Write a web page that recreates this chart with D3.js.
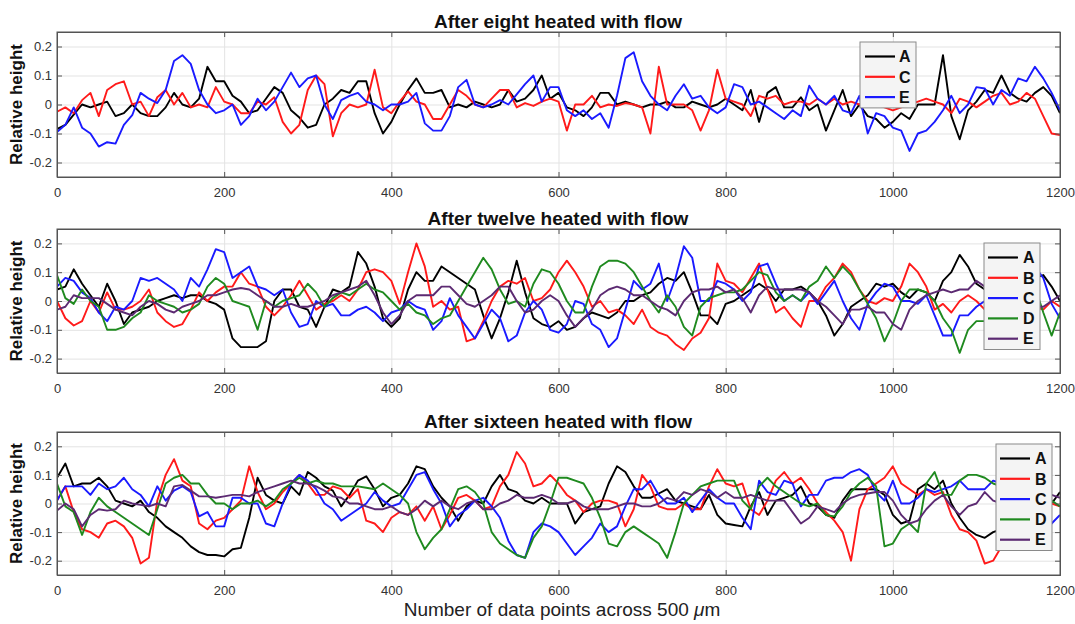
<!DOCTYPE html>
<html>
<head>
<meta charset="utf-8">
<script src="https://cdn.jsdelivr.net/npm/d3@7"></script>
<style>
  body { margin: 0; background: #fff; }
  svg { display: block; font-family: Arial, "Liberation Sans", sans-serif; }
</style>
</head>
<body>
<div id="chart"></div>
<script>
// sample positions (every 10 data points)
const xPos = d3.range(0, 1201, 10);
const xTicks = [0, 200, 400, 600, 800, 1000, 1200];
const yTicks = [-0.2, -0.1, 0, 0.1, 0.2];

// After eight heated with flow
const eightA = [-0.085,-0.07,-0.035,0,-0.01,0,0.01,-0.04,-0.03,0,
  -0.03,-0.04,-0.04,-0.01,0.04,0,-0.01,0.02,0.13,0.08,
  0.08,0.03,0.01,-0.03,-0.02,0.02,0.06,0.04,-0.02,-0.045,
  -0.08,-0.07,0,0.02,0.05,0.04,0.08,0.08,-0.03,-0.1,
  -0.06,0,0.05,0.09,0.04,0.04,0.05,-0.01,0,-0.01,
  0.01,0,-0.01,0,0.05,0.01,0.02,0.05,0.1,0.02,
  0.04,-0.01,-0.02,-0.04,-0.01,0.04,0.04,0,0.01,0,
  -0.01,0,0,0.01,-0.01,-0.01,0.01,0,-0.01,0,
  0.02,0,-0.02,0.05,-0.06,0.04,0.06,-0.01,-0.01,0.025,
  -0.02,0,-0.09,-0.02,0.05,-0.04,0,-0.04,-0.05,-0.08,
  -0.06,-0.03,-0.05,0,0,0,0.17,-0.04,-0.12,-0.02,
  0.01,0.05,0.04,0.1,0.04,0.02,0.01,0.04,0.06,0.03,
  -0.03];
const eightC = [-0.025,-0.01,-0.03,0.015,0.04,-0.04,0.05,0.07,0.08,0,
  0.01,-0.04,0.025,0.05,0,0.04,-0.01,0,-0.01,0.06,
  0.01,0,-0.03,-0.03,0.01,0,0.025,-0.06,-0.1,-0.07,
  0.05,0.1,0.07,-0.11,-0.03,0,-0.01,0,0.12,-0.01,
  -0.03,0.01,0.045,0.01,0,-0.05,-0.05,0,0.05,0.03,
  0,-0.01,0.02,0.05,0.05,-0.01,0.005,-0.005,0.01,0.02,
  0.01,-0.09,0,0,0.03,-0.01,0,-0.005,0.005,0,
  -0.01,-0.1,0.13,0,0,0,-0.02,-0.09,-0.02,0.12,
  0.02,0.01,0,-0.04,0.03,0.02,0.03,0,0.01,0.01,
  0,0.02,0,0.02,0,0.01,0,0.01,0,-0.01,
  -0.02,-0.01,0,0.01,0.02,0.01,0,-0.03,0.02,0.01,
  -0.01,0.01,0.03,0.04,0,0.01,0.04,0.02,-0.04,-0.1,
  -0.105];
const eightE = [-0.095,-0.07,-0.01,-0.08,-0.1,-0.145,-0.13,-0.135,-0.07,-0.037,
  0.04,0.02,0.005,0.05,0.15,0.17,0.14,0.05,0,-0.03,
  -0.02,0,-0.07,-0.04,0.02,-0.02,0.01,0.06,0.11,0.06,
  0.09,0.1,0,-0.05,0.015,0.03,0.04,0.01,0,-0.02,
  0,0,0.01,0.04,-0.065,-0.09,-0.09,-0.04,0.06,0.085,
  0,-0.01,0,0.015,0,0.035,0.07,0.1,0.01,0.06,
  0.06,-0.02,-0.04,-0.02,-0.05,-0.03,-0.08,0.03,0.16,0.18,
  0.08,0.03,0,-0.02,0.03,0.07,0.02,0.03,-0.01,-0.03,
  -0.01,0.07,0.06,0,0.01,-0.01,-0.03,-0.05,-0.02,-0.04,
  0.065,0.02,0,0.03,-0.02,-0.03,0.03,-0.1,-0.03,-0.04,
  -0.08,-0.09,-0.16,-0.1,-0.09,-0.06,-0.02,0.03,-0.03,0,
  0.06,0.055,0,0.05,0.03,0.09,0.08,0.13,0.09,0.04,
  -0.02];

// After twelve heated with flow
const twelveA = [0.04,0.05,0.11,0.06,0.02,-0.02,0.06,0,-0.08,-0.04,
  -0.03,-0.02,0,0.01,0.02,0.01,0.02,0.02,0,-0.01,
  -0.03,-0.13,-0.16,-0.16,-0.16,-0.14,0,0.04,0.04,-0.02,
  -0.03,-0.09,-0.02,0.04,0.03,0.05,0.17,0.13,0.05,-0.06,
  -0.09,-0.06,0.04,0.1,0.07,0.07,0.12,0.1,0.08,0.06,
  0.04,-0.05,-0.13,-0.06,0.03,0.14,0.03,-0.06,-0.08,-0.09,
  -0.07,-0.1,-0.09,-0.06,-0.04,-0.05,-0.06,-0.04,0,0,
  0.02,0.03,0.06,0.08,0.07,0.1,0.03,-0.05,-0.05,-0.08,
  -0.01,0,0.02,0.04,0.06,0.04,0,0.04,0.04,0.05,
  0.03,0,-0.05,-0.12,-0.08,-0.02,0,0.02,0.06,0.05,
  0.06,0.03,0.01,0.04,0.03,0,0.07,0.1,0.16,0.12,
  0.06,0.04,0.02,0,0.02,0.04,0.06,0.08,0.09,0.05,
  0];
const twelveB = [0,-0.06,-0.085,-0.07,0,-0.04,0.03,-0.03,-0.03,-0.02,
  0,0.04,-0.04,-0.07,-0.09,-0.08,-0.03,0.03,0,0.03,
  0.05,0.05,0.1,0.06,0.05,-0.02,-0.05,-0.02,0.02,0.07,
  0.02,-0.03,-0.01,0,0.02,0,0.04,0.1,0.11,0.1,
  0.07,-0.01,0.1,0.2,0.12,-0.02,0,-0.03,-0.02,-0.14,
  -0.13,-0.07,0,0.05,0.07,0.06,0.08,0,0.01,0.04,
  0.1,0.14,0.1,0.05,-0.02,0,-0.04,-0.03,-0.05,-0.08,
  -0.03,-0.09,-0.11,-0.12,-0.15,-0.17,-0.13,-0.11,-0.06,0.13,
  0.07,0.06,0.03,0.08,0.13,0.04,-0.04,-0.02,-0.06,-0.09,
  0,0,0.05,0.08,0.13,0.1,0.04,0,-0.01,0.01,
  0,0.05,0.13,0.1,0.05,-0.03,-0.01,-0.04,0,0.02,
  0,-0.03,-0.02,0,-0.02,-0.03,-0.01,-0.02,-0.03,0,
  -0.02];
const twelveC = [0.05,0.08,0.07,0.03,0.01,-0.04,-0.07,-0.02,-0.03,0,
  0.08,0.07,0.08,0.06,0.04,0,0.08,0.05,0.11,0.18,
  0.17,0.08,0.1,0.12,0.05,0.04,0.02,0.04,-0.04,-0.09,
  -0.08,0,-0.02,-0.01,-0.05,-0.05,-0.03,-0.02,-0.04,-0.07,
  -0.04,-0.03,0,-0.02,-0.03,-0.1,-0.07,0.01,-0.05,-0.09,
  -0.13,-0.08,-0.03,-0.06,-0.14,-0.12,-0.04,0,-0.03,-0.1,
  -0.11,-0.08,0,-0.01,-0.08,-0.1,-0.16,-0.13,-0.03,0.07,
  0.04,0.06,0.13,0,0.08,0.19,0.15,0,0,0.07,
  0.06,0.04,0,0.03,0.12,0.13,0.06,0,0.02,0,
  0.03,-0.01,0.03,0.07,0,-0.06,-0.1,-0.01,0.03,0.06,
  0.05,0,0,-0.01,0.02,-0.05,-0.12,-0.12,-0.05,-0.05,
  -0.02,0,0.03,0.05,0.06,0.08,0.1,0.12,0.08,-0.01,
  -0.06];
const twelveD = [0.09,0.01,-0.01,0.04,0,-0.02,-0.1,-0.1,-0.09,-0.06,
  -0.04,0.02,0,-0.01,-0.02,-0.04,-0.03,-0.01,0.05,0.08,
  0.06,0,-0.01,-0.02,-0.1,0,-0.02,0,0.01,0.02,
  0.06,0.03,-0.02,0.01,0.03,0.02,0.04,0.06,0.04,0.03,
  0,-0.03,-0.01,-0.04,-0.05,-0.08,-0.06,-0.05,0,0.05,
  0.1,0.15,0.11,0.04,-0.01,0,-0.02,0.06,0.11,0.1,
  0.06,0,-0.04,-0.04,0.05,0.12,0.14,0.14,0.13,0.1,
  0.05,0,-0.04,0.02,-0.02,-0.09,-0.12,-0.02,0.01,0.02,
  0.03,0.03,0.04,0.07,0.1,0.09,0.03,0,0.02,0,
  0.05,0.07,0.12,0.08,0.12,0.09,0.04,-0.01,-0.06,-0.14,
  -0.08,0,0.04,0.04,0.03,0,-0.06,-0.1,-0.18,-0.1,
  -0.07,-0.07,-0.05,-0.03,0,0.02,0.04,0.05,-0.04,-0.12,
  -0.04];
const twelveE = [-0.03,-0.02,0.02,0.01,0.01,0.01,-0.01,-0.03,-0.04,-0.05,
  -0.02,0,-0.01,-0.03,-0.04,-0.02,-0.01,0,0.02,0.02,
  0.03,0.04,0.045,0.04,0.02,0,-0.02,-0.02,-0.01,-0.02,
  -0.02,-0.01,0,0.02,0.03,0.04,0.05,0.07,0.02,-0.04,
  -0.08,-0.05,0,0.02,0.02,0.02,0.05,0.05,0.02,-0.01,
  -0.02,0,0.02,0.05,0.05,0,-0.04,-0.03,0,0.02,
  0,-0.05,-0.09,-0.06,-0.03,0.02,0.04,0.05,0.04,0.02,
  0.02,0,-0.02,-0.03,-0.05,0,0.03,0.04,0.04,0.05,
  0.03,0.04,0.01,-0.04,0.02,0.05,0.04,0.04,0.04,0.04,
  0.03,0,-0.02,-0.05,-0.08,-0.03,-0.03,-0.02,-0.04,-0.04,
  -0.08,-0.1,-0.03,0,0.02,0.03,0.04,0.03,0.04,0.04,
  0.07,0.05,0.03,0,-0.01,-0.02,-0.02,-0.02,-0.02,0,
  0.02];

// After sixteen heated with flow
const sixteenA = [0.09,0.14,0.06,0.07,0.07,0.09,0.06,0.01,0,-0.01,
  0.01,-0.03,-0.05,-0.08,-0.1,-0.12,-0.15,-0.17,-0.18,-0.18,
  -0.185,-0.16,-0.155,-0.05,0.09,0.03,0.01,0,0.06,0.03,
  0.11,0.09,0.06,0.045,-0.01,0.03,0.08,0.095,0.05,-0.01,
  0.02,0.03,0.07,0.13,0.12,0.06,0.02,-0.01,-0.06,-0.01,
  0.01,0,0.06,0.1,0.05,0.04,0.01,0,0.02,0,
  0,0,-0.07,-0.03,-0.02,-0.01,0.07,0.13,0.11,0.06,
  0.02,0.02,0.035,0.05,0.01,0,-0.01,-0.02,0.03,-0.04,
  -0.07,-0.075,-0.08,-0.01,0.04,-0.04,0.01,0.02,0.03,0.06,
  0,-0.01,-0.04,-0.05,0.01,0.05,0.05,0.05,0.05,0.03,
  -0.04,-0.07,-0.06,0.05,0.07,0.05,0.08,0,-0.05,-0.09,
  -0.11,-0.12,-0.1,-0.09,-0.06,-0.03,0,0.02,0,0,
  0.04];
const sixteenB = [0.01,0.06,-0.03,-0.09,-0.1,-0.12,-0.07,-0.06,-0.08,-0.12,
  -0.21,-0.19,0.01,0.1,0.155,0.08,0.06,-0.07,-0.09,-0.06,
  -0.05,-0.02,0.01,0.13,0.04,-0.02,0,0.04,0.07,0.1,
  0.07,0.03,0.03,0.06,0.05,0.02,0.05,-0.06,-0.07,-0.1,
  -0.05,-0.03,-0.04,-0.01,-0.06,-0.01,-0.09,-0.04,0.02,0.03,
  0.01,-0.02,-0.01,0.06,0.1,0.18,0.14,0.06,0.07,0.1,
  0.07,0.03,0.01,-0.03,0,0.01,0.01,0,-0.08,-0.02,
  0.1,0.06,-0.01,-0.02,-0.02,0,-0.02,-0.02,0.06,0.12,
  0.07,0.06,0.07,-0.02,-0.04,0.01,0.08,0.11,0.07,0.09,
  0.05,0,-0.03,-0.06,-0.1,-0.2,-0.02,0.05,0.07,0.09,
  0.13,0.07,0.05,0.03,0.05,0.03,0.04,-0.04,-0.09,-0.1,
  -0.13,-0.21,-0.2,-0.15,-0.1,-0.06,-0.04,-0.02,-0.02,0,
  -0.01];
const sixteenC = [0.01,0.06,0.06,0.06,0.03,0.07,0.05,0.06,0.09,0.05,
  0.03,-0.01,0.06,0.01,0.045,0.06,0.04,-0.045,-0.03,-0.08,
  -0.08,0.02,0.02,0,0,-0.07,-0.08,0,0.07,0.1,
  0.08,0.05,0,-0.02,-0.06,-0.04,-0.02,0,0.04,0.01,
  -0.01,0,0.05,0.1,0.11,0.05,0,-0.08,-0.04,-0.02,
  0.01,0.02,-0.01,-0.05,-0.13,-0.18,-0.19,-0.1,-0.07,-0.08,
  -0.1,-0.14,-0.18,-0.15,-0.12,-0.07,-0.1,-0.08,-0.01,0.05,
  0.05,0.08,0.03,0,0,0.02,-0.03,0.01,0.05,0.02,
  0,0,-0.05,-0.09,0.08,0.04,0.03,0.08,0.07,-0.01,
  0.03,0.03,0.08,0.09,0.09,0.11,0.12,0.1,0.04,0.01,
  0.08,0,0,0.02,0.05,0.04,0.05,0.06,0.08,0.05,
  0.05,0.05,0.08,0.07,0.05,0.03,0,-0.04,-0.08,-0.07,
  -0.04];
const sixteenD = [0.07,-0.01,-0.03,-0.11,-0.03,0.02,-0.01,-0.03,-0.05,-0.07,
  -0.09,-0.11,-0.02,0.07,0.09,0.1,0.07,0.07,0.03,0,
  0,-0.02,0,0,0.01,-0.01,0.01,0.05,0.07,0.09,
  0.07,0.08,0.07,0.07,0.06,0.06,0.06,0.055,0.05,0.07,
  0.05,0.03,0,-0.1,-0.16,-0.12,-0.09,-0.02,0.05,0.06,
  0.04,0,-0.1,-0.14,-0.16,-0.18,-0.19,-0.12,-0.08,0,
  0.09,0.09,0.08,0.07,0.02,-0.05,-0.14,-0.15,-0.1,-0.08,
  -0.1,-0.12,-0.14,-0.19,-0.1,0,0.03,0.06,0.07,0.08,
  0.08,0.08,0.01,-0.02,0.06,0.09,0.06,0.04,0.02,0,
  -0.01,0,-0.04,-0.045,-0.01,0.04,0.07,0.09,0.06,-0.15,
  -0.14,-0.09,-0.07,-0.1,0.07,0.11,0.03,0.03,0.08,0.1,
  0.1,0.09,0.07,0.06,0.05,0.03,0.02,0,-0.01,0.01,
  -0.01];
const sixteenE = [-0.025,0,-0.02,-0.08,-0.04,-0.02,-0.025,-0.02,0.01,0,
  -0.005,-0.01,0,-0.01,0.06,0.065,0.045,0.025,0.025,0.02,
  0.025,0.03,0.03,0.025,0.04,0.05,0.06,0.07,0.08,0.07,
  0.07,0.06,0.045,0.025,0.02,0,0,-0.01,-0.02,-0.02,
  -0.01,-0.03,-0.04,-0.02,0.01,-0.01,0.01,-0.01,-0.02,0,
  0.01,-0.02,-0.02,0,0.01,0.03,0.02,0.02,0.03,0.02,
  0,0,0.01,-0.01,-0.02,-0.02,-0.02,-0.01,0,0,
  -0.01,-0.01,0,0.02,0.01,0.04,0.03,0.05,0.04,0.02,
  0.04,0.02,0.02,0.03,0.02,0.01,0.01,0.01,-0.03,-0.07,
  -0.05,-0.01,-0.02,-0.03,0,0.02,0.03,0.035,0.04,0.04,
  0.01,-0.04,-0.07,-0.06,-0.02,0.01,0.03,-0.01,-0.04,-0.01,
  0,0.04,0.01,0,0,0.01,0.02,0.02,0.02,0.03,
  0.02];

const black = "#000000", red = "#ff1a1a", blue = "#1a1aff", green = "#1f8a1f", purple = "#5c2a72";

const panels = [
  { title: "After eight heated with flow", top: 32, bottom: 177,
    series: [["A", eightA, black], ["C", eightC, red], ["E", eightE, blue]],
    legend: { x: 860, y: 42, w: 56, lx: 865, tx: 899 } },
  { title: "After twelve heated with flow", top: 229, bottom: 373,
    series: [["A", twelveA, black], ["B", twelveB, red], ["C", twelveC, blue], ["D", twelveD, green], ["E", twelveE, purple]],
    legend: { x: 984, y: 243, w: 56, lx: 988, tx: 1023 } },
  { title: "After sixteen heated with flow", top: 432, bottom: 575,
    series: [["A", sixteenA, black], ["B", sixteenB, red], ["C", sixteenC, blue], ["D", sixteenD, green], ["E", sixteenE, purple]],
    legend: { x: 996, y: 444, w: 56, lx: 1000, tx: 1035 } }
];

const W = 1075, H = 624;
const left = 57, right = 1060;

const svg = d3.select("#chart").append("svg")
  .attr("width", W)
  .attr("height", H);

svg.append("rect").attr("width", W).attr("height", H).attr("fill", "#fff");

const x = d3.scaleLinear().domain([0, 1200]).range([left, right]);

panels.forEach((p, pi) => {
  const y = d3.scaleLinear().domain([-0.25, 0.25]).range([p.bottom, p.top]);
  const g = svg.append("g");
  const ph = p.bottom - p.top;

  // grid
  g.append("g")
    .attr("transform", `translate(0,${p.bottom})`)
    .call(d3.axisBottom(x).tickValues(xTicks).tickSize(-ph).tickFormat(""))
    .call(s => s.select(".domain").remove())
    .selectAll("line").attr("stroke", "#e3e3e3");
  g.append("g")
    .attr("transform", `translate(${left},0)`)
    .call(d3.axisLeft(y).tickValues(yTicks).tickSize(-(right - left)).tickFormat(""))
    .call(s => s.select(".domain").remove())
    .selectAll("line").attr("stroke", "#e3e3e3");

  // lines
  const clipId = "clip" + pi;
  svg.append("clipPath").attr("id", clipId)
    .append("rect").attr("x", left).attr("y", p.top).attr("width", right - left).attr("height", ph);

  const line = d3.line()
    .x((d, i) => x(xPos[i]))
    .y(d => y(d));

  g.append("g").attr("clip-path", `url(#${clipId})`)
    .selectAll("path")
    .data(p.series)
    .enter()
    .append("path")
    .attr("d", d => line(d[1]))
    .attr("fill", "none")
    .attr("stroke", d => d[2])
    .attr("stroke-width", 1.9)
    .attr("stroke-linejoin", "round");

  // axes with inward ticks on all four sides
  const tickCol = "#555";
  const bx = g.append("g")
    .attr("transform", `translate(0,${p.bottom})`)
    .call(d3.axisBottom(x).tickValues(xTicks).tickSize(-5).tickPadding(11).tickFormat(d => String(d)));
  const tx = g.append("g")
    .attr("transform", `translate(0,${p.top})`)
    .call(d3.axisTop(x).tickValues(xTicks).tickSize(-5).tickFormat(""));
  const ly = g.append("g")
    .attr("transform", `translate(${left},0)`)
    .call(d3.axisLeft(y).tickValues(yTicks).tickSize(-5).tickPadding(5).tickFormat(d => String(d)));
  const ry = g.append("g")
    .attr("transform", `translate(${right},0)`)
    .call(d3.axisRight(y).tickValues(yTicks).tickSize(-5).tickFormat(""));
  [bx, tx, ly, ry].forEach(a => {
    a.select(".domain").attr("stroke", tickCol);
    a.selectAll("line").attr("stroke", tickCol);
    a.selectAll("text").attr("fill", "#333").attr("font-size", 13)
      .attr("font-family", "Arial, 'Liberation Sans', sans-serif");
  });
  g.append("rect")
    .attr("x", left).attr("y", p.top)
    .attr("width", right - left).attr("height", ph)
    .attr("fill", "none").attr("stroke", tickCol).attr("stroke-width", 1);

  // title
  g.append("text")
    .attr("x", 558)
    .attr("y", p.top - 4.5)
    .attr("text-anchor", "middle")
    .attr("font-size", 19)
    .attr("font-weight", "bold")
    .attr("fill", "#111")
    .text(p.title);

  // y label
  g.append("text")
    .attr("transform", `translate(22,${(p.top + p.bottom) / 2}) rotate(-90)`)
    .attr("text-anchor", "middle")
    .attr("font-size", 17)
    .attr("font-weight", "bold")
    .attr("fill", "#111")
    .text("Relative height");

  // legend
  const L = p.legend;
  const rowH = 20.3;
  const lg = g.append("g");
  lg.append("rect")
    .attr("x", L.x).attr("y", L.y)
    .attr("width", L.w).attr("height", p.series.length * rowH + 5)
    .attr("fill", "#f4f4f4").attr("stroke", "#8a8a8a");
  const rows = lg.selectAll("g.row")
    .data(p.series)
    .enter()
    .append("g")
    .attr("transform", (d, i) => `translate(0,${L.y + 14.5 + i * rowH})`);
  rows.append("line")
    .attr("x1", L.lx).attr("x2", L.lx + 30)
    .attr("stroke", d => d[2])
    .attr("stroke-width", 2.2);
  rows.append("text")
    .attr("x", L.tx)
    .attr("dy", "0.36em")
    .attr("font-size", 16)
    .attr("font-weight", "bold")
    .attr("fill", "#111")
    .text(d => d[0]);
});

// x label
const xl = svg.append("text")
  .attr("x", 562)
  .attr("y", 616)
  .attr("text-anchor", "middle")
  .attr("font-size", 19)
  .attr("fill", "#222");
xl.append("tspan").text("Number of data points across 500 ");
xl.append("tspan").attr("font-style", "italic").text("\u03bc");
xl.append("tspan").text("m");
</script>
</body>
</html>
